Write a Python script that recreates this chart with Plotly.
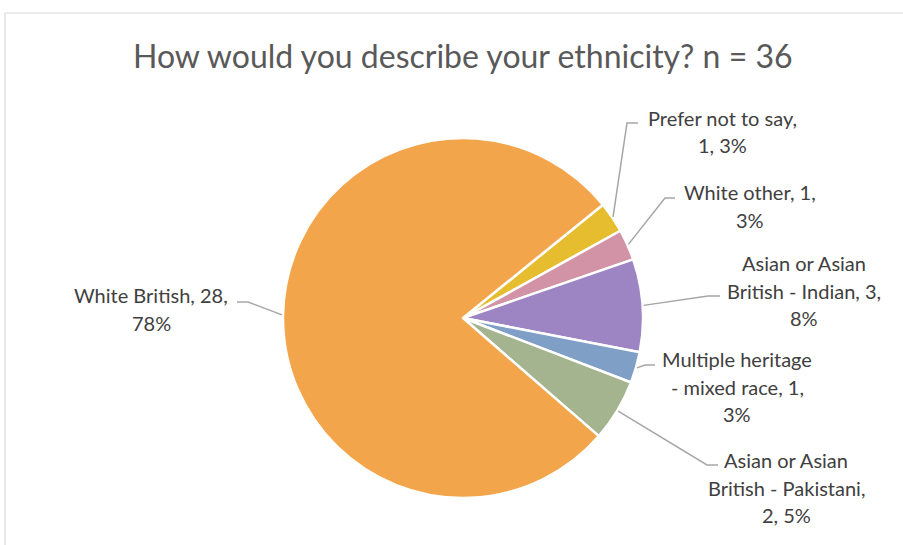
import math
import textwrap
import plotly.graph_objects as go

# ---- data ----
categories = [
    "Prefer not to say",
    "White other",
    "Asian or Asian British - Indian",
    "Multiple heritage - mixed race",
    "Asian or Asian British - Pakistani",
    "White British",
]
values = [1, 1, 3, 1, 2, 28]
colors = ["#E6BD2F", "#D293A6", "#9D84C2", "#7F9FC7", "#A4B48F", "#F2A54A"]
title_text = "How would you describe your ethnicity? n = {}"

# ---- layout settings (pixels) ----
W, H = 903, 545
cx, cy, R = 463, 318, 180
rotation = 51
label_wrap = [18, 15, 20, 17, 20, 18]
label_pos = [(722, 118), (750, 192), (804, 263), (737, 359), (786, 460), (151, 295)]
leader_mid = [(627, 123), (665, 198), (708, 296), (645, 365), (707, 465), (248, 302)]
leader_end = [(638, 123), (675, 198), (720, 296), (655, 365), (718, 465), (237, 302)]
line_gap = 27.5
font_family = "Lato"
label_size = 20
title_size = 32

total = sum(values)

# percentages rounded so they sum to 100 (largest remainder)
raw = [v * 100 / total for v in values]
pcts = [math.floor(r) for r in raw]
rem = 100 - sum(pcts)
order = sorted(range(len(raw)), key=lambda i: -(raw[i] - math.floor(raw[i])))
for i in order[:rem]:
    pcts[i] += 1


def px(x):
    return x / W


def py(y):
    return 1 - y / H


fig = go.Figure()
fig.add_trace(go.Pie(
    labels=categories,
    values=values,
    sort=False,
    direction="clockwise",
    rotation=rotation,
    textinfo="none",
    hoverinfo="label+value+percent",
    marker=dict(colors=colors, line=dict(color="white", width=2.5)),
    domain=dict(x=[px(cx - R), px(cx + R)], y=[py(cy + R), py(cy - R)]),
    showlegend=False,
))

annotations = []
shapes = []

# chart frame
shapes.append(dict(type="rect", xref="paper", yref="paper",
                   x0=px(5), y0=py(560), x1=px(915), y1=py(13),
                   line=dict(color="#D9D9D9", width=1.2), fillcolor="rgba(0,0,0,0)"))

# title
annotations.append(dict(text=title_text.format(total), x=px(463), y=py(55),
                        xref="paper", yref="paper", xanchor="center", yanchor="middle",
                        showarrow=False,
                        font=dict(family=font_family, size=title_size, color="#595959")))

cum = 0
for i, (cat, v) in enumerate(zip(categories, values)):
    mid = rotation + (cum + v / 2) / total * 360
    cum += v
    a = math.radians(mid)
    ex = cx + (R + 1) * math.sin(a)
    ey = cy - (R + 1) * math.cos(a)
    mx, my = leader_mid[i]
    nx, ny = leader_end[i]
    shapes.append(dict(type="path", xref="paper", yref="paper",
                       path=f"M {px(ex)} {py(ey)} L {px(mx)} {py(my)} L {px(nx)} {py(ny)}",
                       line=dict(color="#A6A6A6", width=1.5)))
    text = f"{cat}, {v}, {pcts[i]}%"
    lines = textwrap.wrap(text, width=label_wrap[i], break_on_hyphens=False)
    lx, ly = label_pos[i]
    for j, ln in enumerate(lines):
        annotations.append(dict(text=ln, x=px(lx), y=py(ly + j * line_gap),
                                xref="paper", yref="paper", xanchor="center", yanchor="middle",
                                showarrow=False,
                                font=dict(family=font_family, size=label_size, color="#404040")))

fig.update_layout(
    width=W, height=H,
    margin=dict(l=0, r=0, t=0, b=0),
    paper_bgcolor="white", plot_bgcolor="white",
    annotations=annotations, shapes=shapes,
)

fig.write_html("out.html")
